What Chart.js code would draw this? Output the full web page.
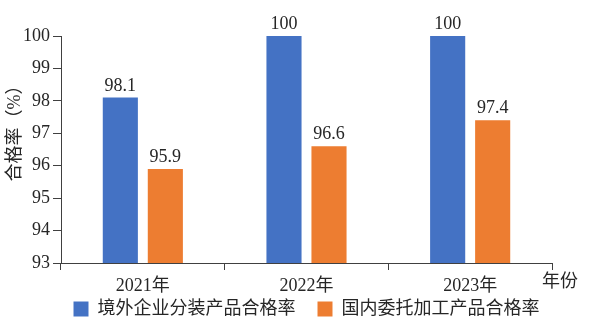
<!DOCTYPE html>
<html>
<head>
<meta charset="utf-8">
<script src="https://cdn.jsdelivr.net/npm/chart.js@4.4.1/dist/chart.umd.min.js"></script>
<style>
  html, body { margin: 0; padding: 0; background: #fff; }
  #wrap { width: 592px; height: 328px; }
</style>
</head>
<body>
<div id="wrap"><canvas id="myChart" width="592" height="328"></canvas></div>
<script>
// data
const years = ['2021年', '2022年', '2023年'];
const seriesNames = ['境外企业分装产品合格率', '国内委托加工产品合格率'];
const abroadRates = [98.1, 100, 100];
const domesticRates = [95.9, 96.6, 97.4];
const yTicks = [93, 94, 95, 96, 97, 98, 99, 100];
const xUnit = '年份';
const yTitle = '合格率（%）';

const fontFamily = "'Liberation Serif', 'Noto Sans CJK SC', serif";
const textColor = '#262626';
const axisColor = '#404040';

// value labels, unit text at the end of the x axis, y title
const extraText = {
    id: 'extraText',
    afterDatasetsDraw(chart) {
        const ctx = chart.ctx;
        const area = chart.chartArea;
        ctx.save();
        ctx.font = '18px ' + fontFamily;
        ctx.fillStyle = textColor;
        ctx.textAlign = 'center';
        ctx.textBaseline = 'alphabetic';
        chart.data.datasets.forEach((ds, i) => {
            chart.getDatasetMeta(i).data.forEach((bar, j) => {
                ctx.fillText(String(ds.data[j]), bar.x, bar.y - 7);
            });
        });

        ctx.textAlign = 'left';
        ctx.textBaseline = 'middle';
        ctx.fillText(xUnit, area.right - 10, area.bottom + 19);

        ctx.translate(15, area.top + 93);
        ctx.rotate(-Math.PI / 2);
        ctx.textAlign = 'center';
        ctx.fillText(yTitle, 0, 0);
        ctx.restore();
    }
};

const ctx = document.getElementById('myChart');
new Chart(ctx, {
    type: 'bar',
    data: {
        labels: years,
        datasets: [{
            // trailing wide space keeps the gap between the two legend items
            label: seriesNames[0] + '\u3000',
            data: abroadRates,
            backgroundColor: '#4472C4'
        }, {
            label: seriesNames[1],
            data: domesticRates,
            backgroundColor: '#ED7D31'
        }]
    },
    options: {
        responsive: false,
        animation: false,
        categoryPercentage: 0.55,
        barPercentage: 0.78,
        layout: {
            padding: { left: 0, right: 40, top: 36, bottom: 0 }
        },
        plugins: {
            tooltip: { enabled: false },
            legend: {
                position: 'bottom',
                fullSize: false,
                labels: {
                    boxWidth: 15,
                    boxHeight: 15,
                    padding: 4,
                    color: textColor,
                    font: { family: fontFamily, size: 18 }
                }
            }
        },
        scales: {
            x: {
                afterFit(scale) { scale.height = 33; },
                grid: {
                    display: true,
                    drawOnChartArea: false,
                    drawTicks: true,
                    tickLength: 7,
                    color: axisColor
                },
                border: { display: true, color: axisColor, width: 1 },
                ticks: {
                    color: textColor,
                    padding: 5,
                    font: { family: fontFamily, size: 18 }
                }
            },
            y: {
                min: 93,
                max: 100,
                afterFit(scale) { scale.width = 61; },
                afterBuildTicks(scale) {
                    scale.ticks = yTicks.map(v => ({ value: v }));
                },
                grid: {
                    display: true,
                    drawOnChartArea: false,
                    drawTicks: true,
                    tickLength: 8,
                    color: axisColor
                },
                border: { display: true, color: axisColor, width: 1 },
                ticks: {
                    color: textColor,
                    padding: 3,
                    font: { family: fontFamily, size: 18 }
                }
            }
        }
    },
    plugins: [extraText]
});
</script>
</body>
</html>
